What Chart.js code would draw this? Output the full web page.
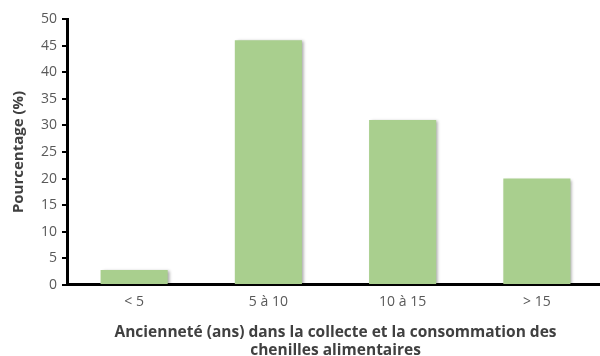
<!DOCTYPE html>
<html lang="fr">
<head>
<meta charset="UTF-8">
<title>Ancienneté</title>
<script src="https://cdn.jsdelivr.net/npm/chart.js"></script>
<style>
    html, body { margin: 0; padding: 0; background: #fff; overflow: hidden; }
    .wrap { width: 604px; height: 356px; }
</style>
</head>
<body>
<div class="wrap"><canvas id="chart" width="604" height="356"></canvas></div>
<script>
// données
const categories = ['< 5', '5 à 10', '10 à 15', '> 15'];
const pourcentages = [2.8, 46, 31, 20];
const yTicks = [0, 5, 10, 15, 20, 25, 30, 35, 40, 45, 50];

// ombre légère sous les barres
const barShadow = {
    id: 'barShadow',
    beforeDatasetsDraw(chart) {
        const c = chart.ctx;
        c.save();
        c.shadowColor = 'rgba(0,0,0,0.35)';
        c.shadowBlur = 3;
        c.shadowOffsetX = 2;
        c.shadowOffsetY = 1;
    },
    afterDatasetsDraw(chart) {
        chart.ctx.restore();
    }
};

const ctx = document.getElementById('chart').getContext('2d');
new Chart(ctx, {
    type: 'bar',
    data: {
        labels: categories,
        datasets: [{
            data: pourcentages,
            backgroundColor: '#a9cf8e',
            barPercentage: 0.5,
            categoryPercentage: 1.0
        }]
    },
    options: {
        responsive: false,
        animation: false,
        layout: { padding: { top: 19, left: 10, right: 0, bottom: -4 } },
        plugins: { legend: { display: false }, tooltip: { enabled: false } },
        scales: {
            x: {
                grid: { display: false, drawTicks: false },
                border: { display: true, color: '#000', width: 3 },
                ticks: { color: '#595959', font: { family: 'Open Sans', size: 14 }, padding: 9 },
                title: {
                    display: true,
                    text: ['Ancienneté (ans) dans la collecte et la consommation des', 'chenilles alimentaires'],
                    color: '#404040',
                    font: { family: 'Open Sans', size: 15.5, weight: 'bold', lineHeight: 1.17 },
                    padding: { top: 4, bottom: 0 }
                }
            },
            y: {
                min: 0,
                max: 50,
                afterBuildTicks(axis) { axis.ticks = yTicks.map(v => ({ value: v })); },
                grid: { drawOnChartArea: false, color: '#000', tickLength: 5, lineWidth: 2 },
                border: { display: true, color: '#000', width: 3 },
                ticks: { color: '#595959', font: { family: 'Open Sans', size: 14 }, padding: 5 },
                title: {
                    display: true,
                    text: 'Pourcentage (%)',
                    color: '#404040',
                    font: { family: 'Open Sans', size: 15, weight: 'bold' },
                    padding: { top: 0, bottom: 8 }
                }
            }
        }
    },
    plugins: [barShadow]
});
</script>
</body>
</html>
